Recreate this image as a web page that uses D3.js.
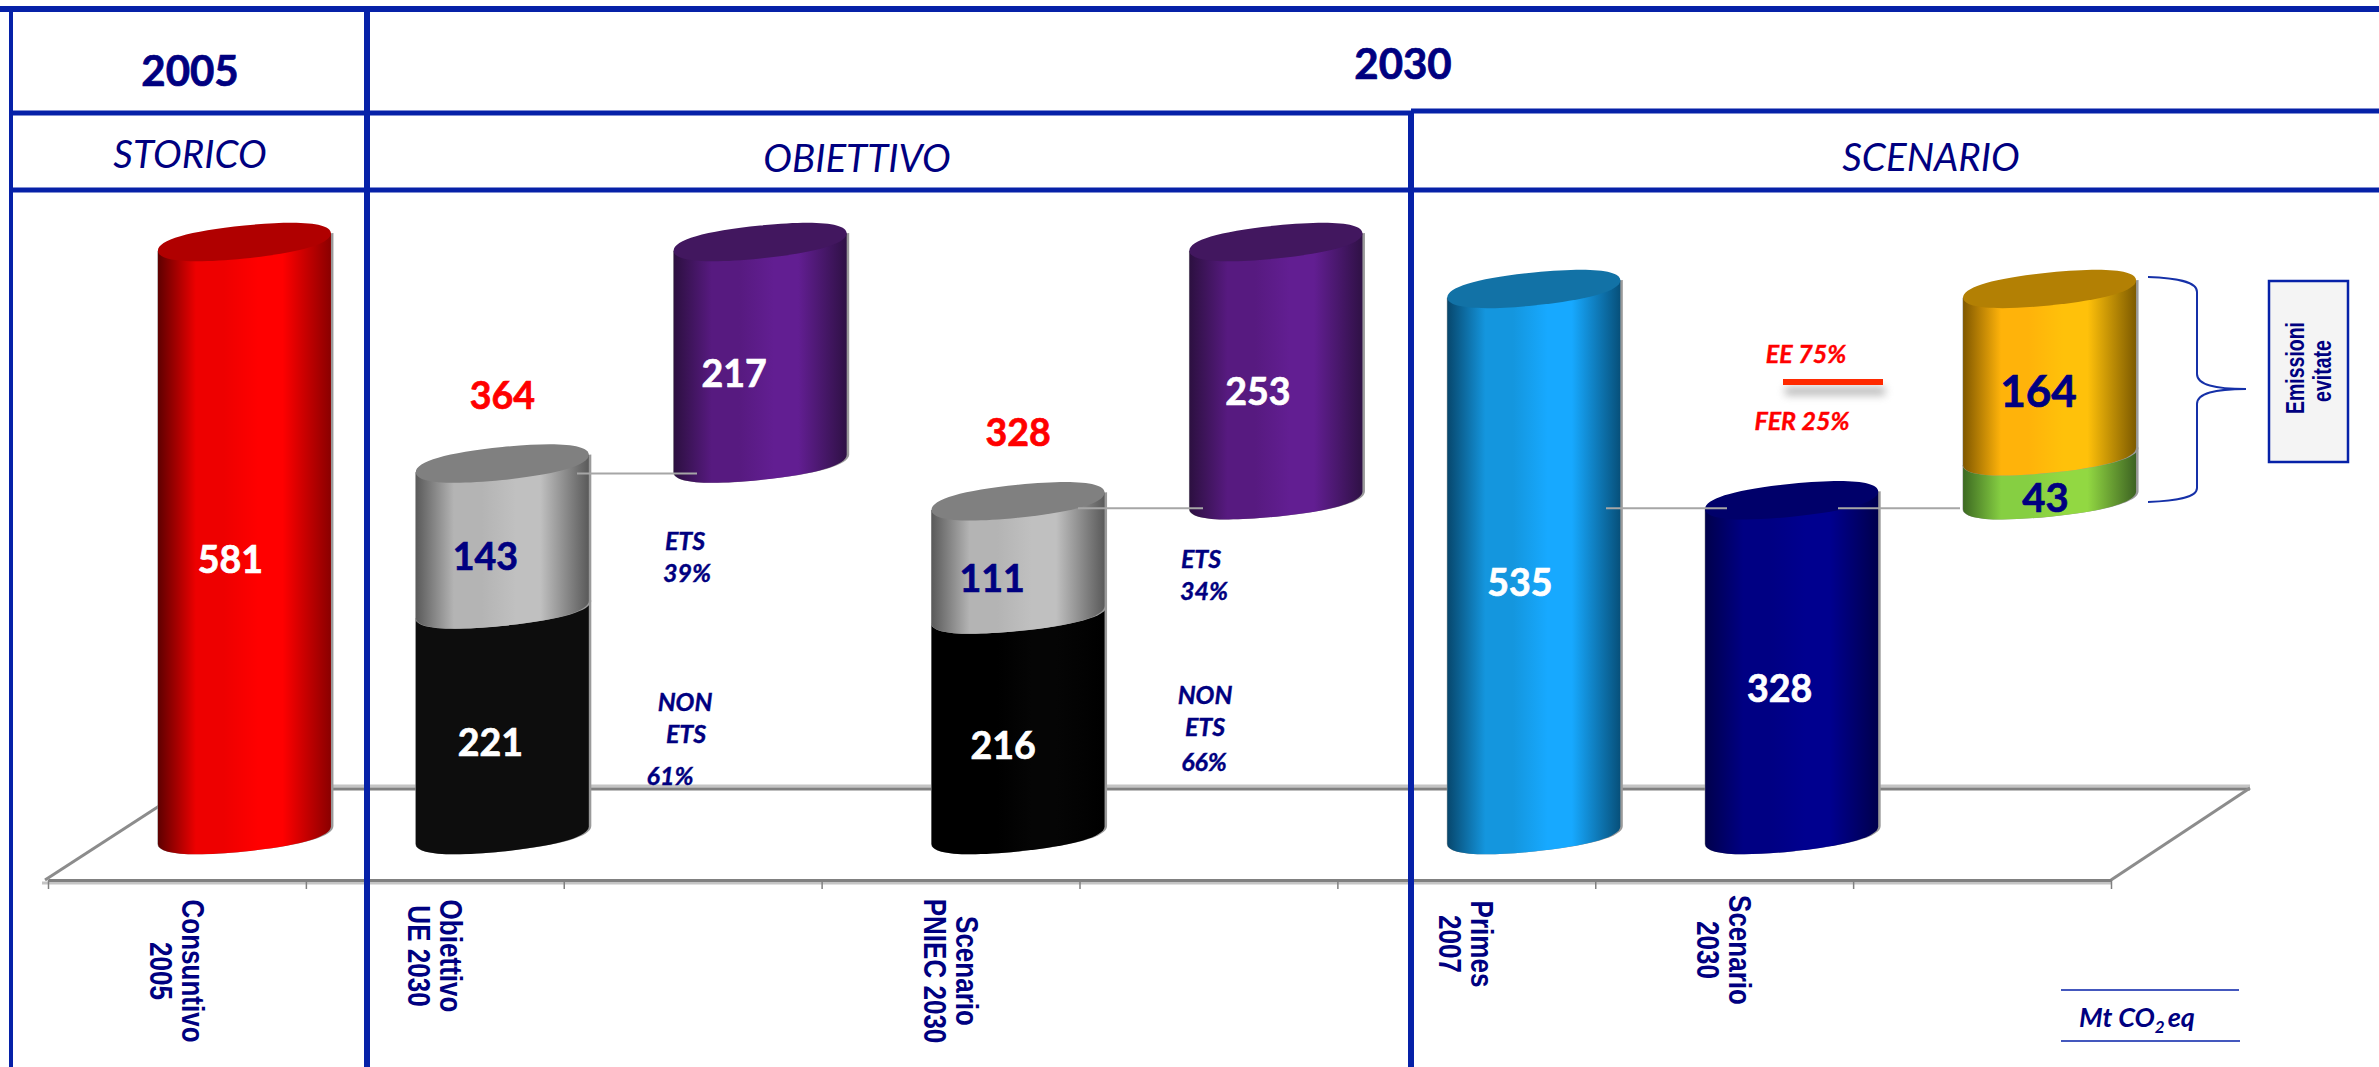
<!DOCTYPE html>
<html>
<head>
<meta charset="utf-8">
<script src="https://cdn.jsdelivr.net/npm/d3@7"></script>
<style>
  html, body { margin: 0; background: #fff; }
  svg { display: block; }
  text { font-family: Lato, sans-serif; }
</style>
</head>
<body>
<script>
// bands along the floor, one row per band, empty ones are the floating bars
const categoryFirst = ['Consuntivo', 'Obiettivo', '', 'Scenario', '', 'Primes', 'Scenario', ''];
const categorySecond = ['2005', 'UE 2030', '', 'PNIEC 2030', '', '2007', '2030', ''];

// one entry per cylinder segment, lower segments first
const segBand = [0, 1, 1, 2, 3, 3, 4, 5, 6, 7, 7];
const segBase = [0, 0, 221, 364, 0, 216, 328, 0, 0, 328, 371];
const segValue = [581, 221, 143, 217, 216, 111, 253, 535, 328, 43, 164];
const segColor = ['red', 'black', 'grey', 'purple', 'black2', 'grey', 'purple', 'blue', 'navy', 'green', 'orange'];
const segText = ['#fff', '#fff', '#000080', '#fff', '#fff', '#000080', '#fff', '#fff', '#fff', '#000080', '#000080'];
const segShiftX = [-14, -12, -17, -26, -15, -26, -18, -14, -12, -4, -11];

const totalBand = [1, 3];
const totalValue = [364, 328];

const palette = {
  red: { edge: '#5e0000', mid: '#ee0000', bright: '#ff0000', edge2: '#8a0000', top: '#b00000' },
  black: { edge: '#0d0d0d', mid: '#0d0d0d', bright: '#0d0d0d', edge2: '#0d0d0d', top: '#0d0d0d' },
  black2: { edge: '#000', mid: '#000', bright: '#050505', edge2: '#000', top: '#000' },
  grey: { edge: '#5a5a5a', mid: '#b4b4b4', bright: '#c0c0c0', edge2: '#5a5a5a', top: '#808080' },
  purple: { edge: '#2c1040', mid: '#571a80', bright: '#621e92', edge2: '#2f1145', top: '#42175f' },
  blue: { edge: '#07476d', mid: '#1496de', bright: '#17a9ff', edge2: '#07507a', top: '#1272a6' },
  navy: { edge: '#00004c', mid: '#000083', bright: '#00008f', edge2: '#00004c', top: '#00006a' },
  orange: { edge: '#805800', mid: '#ffb30a', bright: '#ffc10a', edge2: '#7d5a00', top: '#b38004' },
  green: { edge: '#3d6a22', mid: '#86cf42', bright: '#92d842', edge2: '#3d6322', top: '#92d842' },
};

const width = 2379;
const height = 1067;
const navy = '#000080';
const gridBlue = '#0621a8';

const rx = 86.5;
const ry = 16.5;
const roundness = 0.64;
const shear = -0.1;
const depthX = 67.5;
const floorY = 880;
const backY = 788;

const x = d3.scaleLinear().domain([0, 8]).range([48, 2111]);
const y = d3.scaleLinear().domain([0, 581]).range([835, 242]);

const svg = d3.select('body').append('svg').attr('width', width).attr('height', height);
const defs = svg.append('defs');

Object.keys(palette).forEach((name) => {
  const c = palette[name];
  const grad = defs.append('linearGradient').attr('id', 'cyl-' + name);
  [[0, c.edge], [0.22, c.mid], [0.38, c.mid], [0.58, c.bright], [0.72, c.bright], [1, c.edge2]].forEach((s) => {
    grad.append('stop').attr('offset', s[0]).attr('stop-color', s[1]);
  });
});
const blur = defs.append('filter').attr('id', 'soft').attr('x', '-10%').attr('width', '120%').attr('y', '-200%').attr('height', '500%');
blur.append('feGaussianBlur').attr('stdDeviation', 4);

// floor
const floor = svg.append('g');
floor.append('line').attr('x1', 187).attr('x2', 2250).attr('y1', backY - 2).attr('y2', backY - 2)
  .attr('stroke', '#c4c4c4').attr('stroke-width', 3);
floor.append('line').attr('x1', 187).attr('x2', 2250).attr('y1', backY + 1).attr('y2', backY + 1)
  .attr('stroke', '#808080').attr('stroke-width', 3);
floor.append('line').attr('x1', 45).attr('x2', 187).attr('y1', floorY).attr('y2', backY)
  .attr('stroke', '#8c8c8c').attr('stroke-width', 3);
floor.append('line').attr('x1', 2111).attr('x2', 2250).attr('y1', floorY).attr('y2', backY)
  .attr('stroke', '#8c8c8c').attr('stroke-width', 3);
floor.append('line').attr('x1', 42).attr('x2', 2111).attr('y1', floorY + 3).attr('y2', floorY + 3)
  .attr('stroke', '#c4c4c4').attr('stroke-width', 3);

const axis = floor.append('g')
  .attr('transform', 'translate(0,' + floorY + ')')
  .call(d3.axisBottom(x).ticks(8).tickSize(9).tickSizeOuter(0).tickFormat(''));
axis.select('.domain').attr('stroke', '#808080').attr('stroke-width', 3);
axis.selectAll('.tick line').attr('stroke', '#808080').attr('stroke-width', 1.5);

// cylinders, the end caps are rounder than a true ellipse like in the original picture
function lowerHalf(cy, r) {
  const kx = r * roundness;
  const ky = ry * roundness;
  return 'C' + -r + ',' + (cy + ky) + ' ' + -kx + ',' + (cy + ry) + ' 0,' + (cy + ry) +
    'C' + kx + ',' + (cy + ry) + ' ' + r + ',' + (cy + ky) + ' ' + r + ',' + cy;
}
function upperHalf(cy, r) {
  const kx = r * roundness;
  const ky = ry * roundness;
  return 'C' + r + ',' + (cy - ky) + ' ' + kx + ',' + (cy - ry) + ' 0,' + (cy - ry) +
    'C' + -kx + ',' + (cy - ry) + ' ' + -r + ',' + (cy - ky) + ' ' + -r + ',' + cy;
}
function bodyPath(top, bottom, r) {
  return 'M' + -r + ',' + top + 'L' + -r + ',' + bottom + lowerHalf(bottom, r) + 'L' + r + ',' + top + 'Z';
}
function capPath(cy, r) {
  return 'M' + -r + ',' + cy + lowerHalf(cy, r) + upperHalf(cy, r) + 'Z';
}
const cylX = (band) => x(band + 0.5) + depthX;

const segments = segValue.map((v, i) => ({
  band: segBand[i],
  top: y(segBase[i] + v),
  bottom: y(segBase[i]),
  color: segColor[i],
  isTop: segBand[i + 1] !== segBand[i],
}));

const cyl = svg.append('g').selectAll('g').data(segments).join('g')
  .attr('transform', (d) => 'matrix(1,' + shear + ',0,1,' + cylX(d.band) + ',0)');

// thin grey rim of the picture edge
cyl.filter((d) => d.isTop || d.color === 'black' || d.color === 'black2' || d.color === 'green')
  .append('path')
  .attr('d', (d) => bodyPath(d.top, d.bottom, rx + 1.5))
  .attr('transform', 'translate(1,0)')
  .attr('fill', '#9a9a9a');
cyl.append('path')
  .attr('d', (d) => bodyPath(d.top, d.bottom, rx))
  .attr('fill', (d) => 'url(#cyl-' + d.color + ')');
cyl.filter((d) => d.isTop).append('path')
  .attr('d', (d) => capPath(d.top, rx))
  .attr('fill', (d) => palette[d.color].top);

// connectors between a bar top and the next floating bar
const connectors = [
  [577, 697, 364, 10],
  [1078, 1203, 328, 8],
  [1606, 1727, 328, 8],
  [1838, 1960, 328, 8],
];
svg.append('g').selectAll('line').data(connectors).join('line')
  .attr('x1', (d) => d[0]).attr('x2', (d) => d[1])
  .attr('y1', (d) => y(d[2]) + d[3]).attr('y2', (d) => y(d[2]) + d[3])
  .attr('stroke', '#a6a6a6').attr('stroke-width', 2);

// value labels
svg.append('g').selectAll('text').data(segValue).join('text')
  .attr('x', (d, i) => cylX(segBand[i]) + segShiftX[i])
  .attr('y', (d, i) => y(segBase[i] + d / 2) + 34)
  .attr('text-anchor', 'middle')
  .attr('font-size', (d, i) => (segColor[i] === 'orange' ? 44 : segColor[i] === 'green' ? 40 : 37.5))
  .attr('font-weight', 700)
  .attr('fill', (d, i) => segText[i])
  .attr('stroke', (d, i) => segText[i])
  .attr('stroke-width', 0.7)
  .text((d) => d);

svg.append('g').selectAll('text').data(totalValue).join('text')
  .attr('x', (d, i) => cylX(totalBand[i]))
  .attr('y', (d) => y(d) - 54)
  .attr('text-anchor', 'middle')
  .attr('font-size', 37.5)
  .attr('font-weight', 700)
  .attr('fill', '#ff0000')
  .attr('stroke', '#ff0000')
  .attr('stroke-width', 0.7)
  .text((d) => d);

// category labels, rotated to read downward
function catLabel(text, px, py) {
  svg.append('text')
    .attr('transform', 'translate(' + px + ',' + py + ') rotate(90) scale(0.84,1)')
    .attr('text-anchor', 'middle')
    .style('font-family', '"Liberation Sans", Arial, sans-serif')
    .attr('font-size', 31)
    .attr('font-weight', 700)
    .attr('fill', navy)
    .text(text);
}
const catCenterY = [971, 956, 0, 971, 0, 944, 950, 0];
categoryFirst.forEach((c, i) => {
  if (!c) return;
  catLabel(c, x(i + 0.5) + 5, catCenterY[i]);
  catLabel(categorySecond[i], x(i + 0.5) - 27, catCenterY[i]);
});

// italic notes
const noteText = ['ETS', '39%', 'NON', 'ETS', '61%', 'ETS', '34%', 'NON', 'ETS', '66%', 'EE 75%', 'FER 25%'];
const noteX = [685, 687, 685, 686, 670, 1201, 1204, 1205, 1205, 1204, 1806, 1802];
const noteY = [550, 582, 711, 743, 785, 568, 600, 704, 736, 771, 363, 430];
const noteFill = [navy, navy, navy, navy, navy, navy, navy, navy, navy, navy, '#ff0000', '#ff0000'];
svg.append('g').selectAll('text').data(noteText).join('text')
  .attr('x', (d, i) => noteX[i])
  .attr('y', (d, i) => noteY[i])
  .attr('text-anchor', 'middle')
  .attr('font-size', 25)
  .attr('font-weight', 700)
  .attr('font-style', 'italic')
  .attr('fill', (d, i) => noteFill[i])
  .attr('stroke', (d, i) => noteFill[i])
  .attr('stroke-width', 0.4)
  .text((d) => d);

// red dash between EE and FER
svg.append('rect').attr('x', 1785).attr('y', 387).attr('width', 100).attr('height', 8)
  .attr('fill', '#777').attr('opacity', 0.55).attr('filter', 'url(#soft)');
svg.append('rect').attr('x', 1783).attr('y', 379).attr('width', 100).attr('height', 6).attr('fill', '#ff2a00');

// brace
svg.append('path')
  .attr('d', 'M2148,277 C2175,278 2197,281 2197,292 L2197,374 C2197,385 2215,389 2246,389' +
    ' C2215,389 2197,393 2197,404 L2197,488 C2197,498 2175,501 2148,502')
  .attr('fill', 'none').attr('stroke', '#1530a8').attr('stroke-width', 2);

// box
svg.append('rect').attr('x', 2269).attr('y', 281).attr('width', 79).attr('height', 181)
  .attr('fill', '#f4f4f4').attr('stroke', gridBlue).attr('stroke-width', 2.5);
[['Emissioni', 2304, 368], ['evitate', 2331, 371]].forEach((t) => {
  svg.append('text')
    .attr('transform', 'translate(' + t[1] + ',' + t[2] + ') rotate(-90) scale(0.78,1)')
    .attr('text-anchor', 'middle')
    .style('font-family', '"Liberation Sans", Arial, sans-serif')
    .attr('font-size', 25)
    .attr('font-weight', 700)
    .attr('fill', navy)
    .text(t[0]);
});

// unit
svg.append('line').attr('x1', 2061).attr('x2', 2239).attr('y1', 990).attr('y2', 990).attr('stroke', gridBlue).attr('stroke-width', 1.5);
svg.append('line').attr('x1', 2061).attr('x2', 2240).attr('y1', 1041).attr('y2', 1041).attr('stroke', gridBlue).attr('stroke-width', 1.5);
const unit = svg.append('text').attr('x', 2079).attr('y', 1027)
  .attr('font-size', 27).attr('font-weight', 700).attr('font-style', 'italic').attr('fill', navy);
unit.append('tspan').text('Mt CO');
unit.append('tspan').attr('dy', 6).attr('font-size', 17).text('2');
unit.append('tspan').attr('dy', -6).attr('dx', 3).text('eq');

// header grid
const grid = svg.append('g').attr('stroke', gridBlue).attr('fill', 'none');
const gridLines = [
  [0, 9, width, 9, 6],
  [11, 113, 1411, 113, 5],
  [1411, 111, width, 111, 5],
  [11, 190, width, 190, 5],
  [11, 6, 11, height, 4],
  [367, 6, 367, height, 6],
  [1411, 111, 1411, height, 6],
];
grid.selectAll('line').data(gridLines).join('line')
  .attr('x1', (d) => d[0]).attr('y1', (d) => d[1])
  .attr('x2', (d) => d[2]).attr('y2', (d) => d[3])
  .attr('stroke-width', (d) => d[4]);

// header text
const headText = ['2005', '2030', 'STORICO', 'OBIETTIVO', 'SCENARIO'];
const headX = [190, 1403, 190, 857, 1931];
const headY = [86, 79, 168, 172, 171];
const headItalic = [false, false, true, true, true];
svg.append('g').selectAll('text').data(headText).join('text')
  .attr('x', (d, i) => headX[i])
  .attr('y', (d, i) => headY[i])
  .attr('text-anchor', 'middle')
  .attr('font-size', (d, i) => (headItalic[i] ? 38.5 : 42))
  .attr('font-weight', (d, i) => (headItalic[i] ? 400 : 700))
  .attr('font-style', (d, i) => (headItalic[i] ? 'italic' : 'normal'))
  .attr('fill', navy)
  .attr('stroke', (d, i) => (headItalic[i] ? 'none' : navy))
  .attr('stroke-width', 0.7)
  .text((d) => d);
</script>
</body>
</html>
